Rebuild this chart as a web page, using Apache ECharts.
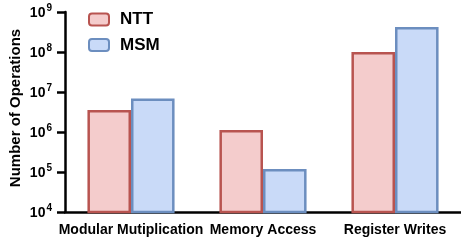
<!DOCTYPE html>
<html><head><meta charset="utf-8">
<script src="https://cdn.jsdelivr.net/npm/echarts@6/dist/echarts.min.js"></script>
<style>html,body{margin:0;padding:0;background:#fff}#c{width:461px;height:241px}</style>
</head><body><div id="c"></div>
<script>
var categories = ['Modular Mutiplication', 'Memory Access', 'Register Writes'];
var nttValues = [3.55e6, 1.12e6, 1.0e8];
var msmValues = [6.9e6, 1.19e5, 4.2e8];
var yTickExponents = [4, 5, 6, 7, 8, 9];

var chart = echarts.init(document.getElementById('c'));
var fontFam = 'Liberation Sans, Arial, sans-serif';
var minExp = yTickExponents[0], maxExp = yTickExponents[yTickExponents.length - 1];
chart.setOption({
  animation: false,
  grid: {left: 65, top: 12, width: 399, height: 200, containLabel: false},
  legend: {
    left: 88, top: 11, padding: 0, orient: 'vertical', itemWidth: 20, itemHeight: 12, itemGap: 8.5,
    textStyle: {fontFamily: fontFam, fontWeight: 'bold', fontSize: 17, color: '#000', padding: [0, 0, 0, 6]},
    data: ['NTT', 'MSM']
  },
  xAxis: {
    type: 'category', data: categories,
    axisLine: {lineStyle: {color: '#000', width: 2.5}},
    axisTick: {length: 6, lineStyle: {color: '#000', width: 2.5}},
    axisLabel: {fontFamily: fontFam, fontWeight: 'bold', fontSize: 14, color: '#000', margin: 11, interval: 0}
  },
  yAxis: [{
    type: 'log', logBase: 10, min: Math.pow(10, minExp), max: Math.pow(10, maxExp),
    name: 'Number of Operations', nameLocation: 'middle', nameGap: 42,
    nameTextStyle: {fontFamily: fontFam, fontWeight: 'bold', fontSize: 15, color: '#000', padding: [0, 0, 0, 8]},
    splitLine: {show: false},
    axisLine: {show: true, lineStyle: {color: '#000', width: 2.5}},
    axisTick: {show: false},
    axisLabel: {show: false}
  }, {
    type: 'value', position: 'left', min: minExp, max: maxExp, interval: 1,
    splitLine: {show: false},
    axisLine: {show: false},
    axisTick: {show: true, length: 8, lineStyle: {color: '#000', width: 2.5}},
    axisLabel: {
      margin: 13,
      formatter: function (e) {
        return '{b|10}{s|' + e + '}';
      },
      rich: {
        b: {fontFamily: fontFam, fontWeight: 'bold', fontSize: 14, color: '#000', verticalAlign: 'bottom'},
        s: {fontFamily: fontFam, fontWeight: 'bold', fontSize: 10, color: '#000', verticalAlign: 'top', padding: [0, 0, 7, 1]}
      }
    }
  }],
  series: [
    {name: 'NTT', type: 'bar', yAxisIndex: 0, data: nttValues, barGap: '0%', barCategoryGap: '34%',
     itemStyle: {color: '#f4cccc', borderColor: '#b85450', borderWidth: 2.5}},
    {name: 'MSM', type: 'bar', yAxisIndex: 0, data: msmValues,
     itemStyle: {color: '#c9daf8', borderColor: '#6c8ebf', borderWidth: 2.5}}
  ]
});
</script></body></html>
